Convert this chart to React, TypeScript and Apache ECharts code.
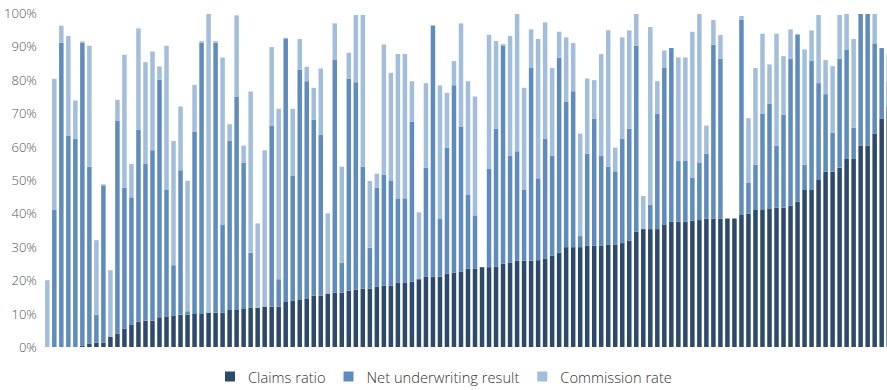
import React, { useEffect, useRef } from "react";
import * as echarts from "echarts";

const claimsRatio = [
  0, 0, 0, 0, 0, 0.4, 1, 1.3, 1.3, 3, 4, 5.5, 6.6, 7.6, 7.9, 7.9, 8.9, 9, 9.3, 9.7,
  9.7, 9.9, 9.9, 10.3, 10.3, 10.3, 11.1, 11.1, 11.4, 11.7, 11.7, 12.1, 12.1, 12.1, 13.5, 13.8, 14.1, 14.4, 15.4, 15.4,
  16, 16.3, 16.3, 16.9, 17.2, 17.5, 17.5, 18.1, 18.4, 18.4, 19.2, 19.2, 19.6, 20.3, 21.1, 21.1, 21.1, 21.9, 22.3, 22.6,
  23.5, 23.5, 23.9, 23.9, 24.1, 24.9, 25.2, 25.8, 25.8, 25.8, 26, 26.5, 27.3, 28.2, 29.9, 29.9, 29.9, 30.3, 30.3, 30.3,
  30.7, 30.7, 31.1, 31.8, 34.5, 35.3, 35.3, 35.3, 36.7, 37.5, 37.5, 37.5, 37.8, 38, 38.4, 38.4, 38.4, 38.5, 38.5, 39.5,
  39.9, 41, 41, 41.3, 41.7, 41.7, 42.3, 43.5, 47, 47, 50, 52.5, 52.5, 53.7, 56.3, 56.3, 60.3, 60.3, 63.9, 68.4,
  72,
];

const netUnderwritingResult = [
  0, 41, 91.1, 63.2, 62.3, 90.7, 53, 8.4, 47.1, 0, 63.8, 42.2, 38.2, 57.4, 46.9, 51, 71.1, 38, 15.2, 43.2,
  1, 54.6, 81.2, 0, 80.8, 26.4, 50.6, 63.9, 43.7, 16.5, 0, 0, 54.2, 8.2, 78.7, 37.4, 69, 65.2, 52.7, 48.1,
  0, 69.6, 8.9, 63.4, 62.1, 36.5, 12.2, 29.6, 33.2, 31.3, 25.3, 25.3, 47.9, 0, 32.6, 75.1, 17.4, 37.8, 56.1, 43.4,
  22, 15.9, 0, 29.4, 41.2, 65.4, 32.1, 32.8, 21.2, 57.7, 24.5, 35.9, 30, 58.4, 43.5, 46.7, 3.3, 27.6, 38.1, 27,
  23.3, 21.9, 31.3, 33.6, 55.7, 0, 7.3, 34.6, 46.8, 52, 18.2, 18.2, 12.8, 17.1, 19.5, 52.1, 47.9, 0, 0, 58.4,
  9.2, 13.6, 28.9, 31.6, 18.6, 27.8, 44, 49.9, 7.6, 38.6, 29, 23.2, 11.6, 32.6, 32.8, 9.4, 39.4, 39.4, 27, 21.1,
  7.4,
];

const commissionRate = [
  20, 39.3, 5.1, 29.9, 11.5, 0.4, 36.2, 22.3, 0.3, 20, 6.2, 39.8, 10, 30.4, 30.5, 29.6, 4, 43.2, 37.2, 19.1,
  39.1, 14, 0.5, 89.4, 0.5, 50, 5, 24.3, 5.2, 48.3, 25.3, 46.8, 23.5, 51, 0.4, 20.1, 9.1, 4.3, 9.5, 19.9,
  24, 11, 28.8, 7.8, 20.1, 45.4, 20, 4.2, 39, 32.4, 43.2, 43.2, 12.1, 20, 25.3, 0.2, 39.8, 16.4, 7.2, 30.9,
  34.1, 35.6, 0, 40.2, 26.3, 0.4, 35.8, 41.1, 30.6, 11.6, 41.7, 34.8, 26.2, 7.8, 19.3, 14.4, 30.7, 22.5, 11.5, 30.4,
  40.8, 7.1, 30.3, 29.4, 9.5, 9.9, 53.2, 9.7, 5.3, 0, 31, 31, 43.8, 44.6, 8.4, 7.4, 7.1, 0, 0, 1.2,
  19.4, 28.9, 23.9, 11.7, 33.5, 17.6, 8.8, 0.3, 34.5, 9.2, 20.4, 10.2, 20, 13.1, 10.6, 26.5, 0, 0, 8.8, 0,
  8.3,
];

const categories = claimsRatio.map((_, i) => String(i + 1));
const seriesNames = ["Claims ratio", "Net underwriting result", "Commission rate"];
const colors = ["#2e4a6a", "#5f8cbc", "#a3bedb"];

export default function App() {
  const ref = useRef<HTMLDivElement>(null);

  useEffect(() => {
    if (!ref.current) return;
    const chart = echarts.init(ref.current, undefined, { renderer: "svg" });
    const data = [claimsRatio, netUnderwritingResult, commissionRate];
    chart.setOption({
      animation: false,
      color: colors,
      grid: { left: 43.8, right: 7.8, top: 13, bottom: 43 },
      legend: {
        left: 225,
        top: 369,
        padding: 0,
        icon: "rect",
        itemWidth: 10,
        itemHeight: 10,
        itemGap: 18,
        textStyle: {
          fontFamily: "Open Sans",
          fontSize: 14.7,
          fontWeight: 300,
          color: "#333",
          padding: [0, 0, 0, 8],
        },
        data: seriesNames,
      },
      xAxis: {
        type: "category",
        data: categories,
        axisLine: { show: false },
        axisTick: { show: false },
        axisLabel: { show: false },
        splitLine: { show: false },
      },
      yAxis: {
        type: "value",
        min: 0,
        max: 100,
        interval: 10,
        axisLine: { show: false },
        axisTick: { show: false },
        splitLine: { show: false },
        axisLabel: {
          formatter: "{value}%",
          margin: 7,
          fontFamily: "Open Sans",
          fontSize: 13,
          fontWeight: 300,
          color: "#555",
        },
      },
      series: seriesNames.map((name, i) => ({
        name,
        type: "bar",
        stack: "total",
        data: data[i],
        barWidth: 4.5,
        itemStyle: { color: colors[i] },
      })),
    });
    return () => chart.dispose();
  }, []);

  return (
    <div style={{ position: "absolute", left: 0, top: 0, width: 887, height: 390, overflow: "hidden", background: "#fff" }}>
      <div ref={ref} style={{ width: 900, height: 390 }} />
    </div>
  );
}
